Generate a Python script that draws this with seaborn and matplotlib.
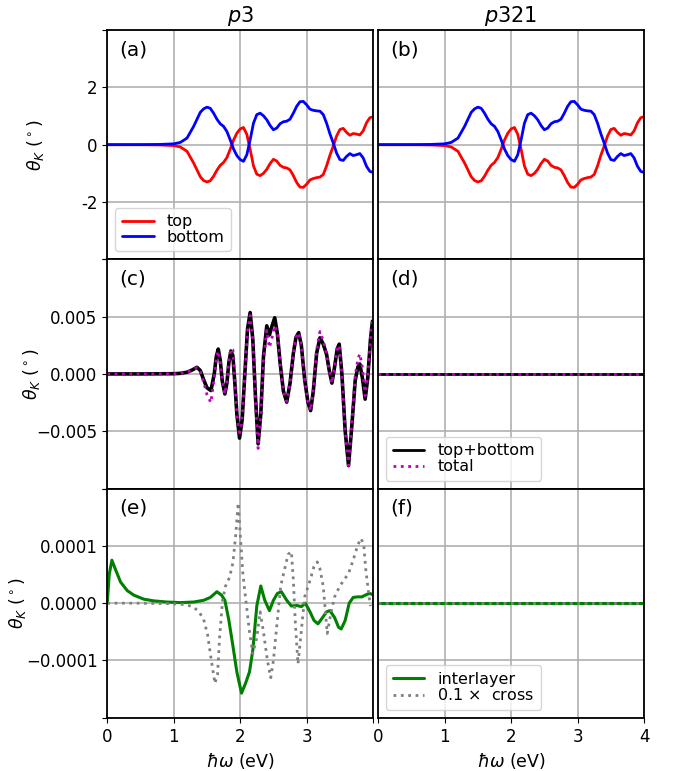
import matplotlib
matplotlib.use("Agg")
import matplotlib.pyplot as plt
import seaborn as sns

# ---------------- data ----------------
# panels (a)/(b): Kerr angle of top and bottom layers (deg)
ab_x = [0.0, 0.5, 0.8, 1.0, 1.1, 1.2, 1.3, 1.4, 1.45, 1.5, 1.55, 1.6, 1.65, 1.7, 1.75,
        1.8, 1.85, 1.9, 1.95, 2.0, 2.05, 2.1, 2.15, 2.2, 2.25, 2.3, 2.35, 2.4, 2.45,
        2.5, 2.55, 2.6, 2.65, 2.7, 2.75, 2.8, 2.85, 2.9, 2.95, 3.0, 3.05, 3.1, 3.15,
        3.2, 3.25, 3.3, 3.35, 3.4, 3.45, 3.5, 3.55, 3.6, 3.65, 3.7, 3.75, 3.8, 3.85,
        3.9, 3.95, 3.99]
ab_bottom = [0.0, 0.0, 0.01, 0.03, 0.08, 0.23, 0.64, 1.13, 1.25, 1.31, 1.27, 1.10, 0.89,
             0.73, 0.64, 0.46, 0.17, -0.15, -0.38, -0.52, -0.58, -0.35, 0.17, 0.75,
             1.05, 1.10, 1.01, 0.87, 0.67, 0.52, 0.58, 0.73, 0.80, 0.82, 0.89, 1.10,
             1.34, 1.50, 1.51, 1.39, 1.24, 1.20, 1.18, 1.17, 1.05, 0.75, 0.38, 0.06,
             -0.29, -0.52, -0.55, -0.41, -0.31, -0.38, -0.35, -0.31, -0.46, -0.75,
             -0.93, -0.96]
ab_top = [0.0, 0.0, -0.01, -0.03, -0.08, -0.23, -0.64, -1.12, -1.25, -1.30, -1.26,
          -1.10, -0.89, -0.72, -0.62, -0.45, -0.16, 0.16, 0.40, 0.55, 0.60, 0.36,
          -0.16, -0.74, -1.03, -1.08, -1.00, -0.86, -0.66, -0.51, -0.57, -0.72,
          -0.79, -0.81, -0.88, -1.08, -1.32, -1.48, -1.49, -1.38, -1.23, -1.18,
          -1.15, -1.13, -1.04, -0.74, -0.37, -0.05, 0.30, 0.53, 0.57, 0.43, 0.33,
          0.39, 0.37, 0.34, 0.48, 0.76, 0.94, 0.97]

# panel (c): p3, top+bottom and total (deg)
c_x = [0.0, 0.5, 1.0, 1.1, 1.2, 1.28, 1.35, 1.40, 1.45, 1.50, 1.56, 1.61, 1.64, 1.67,
       1.70, 1.73, 1.77, 1.80, 1.83, 1.86, 1.89, 1.92, 1.95, 1.99, 2.03, 2.07, 2.11,
       2.15, 2.19, 2.23, 2.27, 2.31, 2.35, 2.40, 2.44, 2.48, 2.52, 2.56, 2.60, 2.65,
       2.70, 2.75, 2.80, 2.84, 2.88, 2.92, 2.97, 3.02, 3.06, 3.10, 3.15, 3.20, 3.25,
       3.30, 3.34, 3.38, 3.42, 3.46, 3.49, 3.53, 3.58, 3.63, 3.68, 3.73, 3.77, 3.80,
       3.84, 3.88, 3.92, 3.96, 3.99]
c_topbottom = [0.0, 0.0, 0.02e-3, 0.05e-3, 0.15e-3, 0.35e-3, 0.58e-3, 0.3e-3, -0.5e-3,
               -1.2e-3, -1.45e-3, 0.0, 1.5e-3, 2.17e-3, 1.2e-3, -0.6e-3, -1.75e-3,
               -0.8e-3, 1.0e-3, 2.0e-3, 1.6e-3, -0.8e-3, -3.5e-3, -5.6e-3, -4.0e-3,
               0.0, 3.9e-3, 5.36e-3, 3.0e-3, -2.0e-3, -6.1e-3, -3.5e-3, 1.5e-3, 4.2e-3,
               3.4e-3, 4.2e-3, 4.9e-3, 3.5e-3, 1.0e-3, -1.5e-3, -2.46e-3, -0.8e-3,
               1.8e-3, 3.2e-3, 3.6e-3, 2.5e-3, -0.5e-3, -2.5e-3, -3.2e-3, -1.5e-3,
               1.8e-3, 3.15e-3, 2.6e-3, 1.7e-3, 0.3e-3, -0.8e-3, 0.6e-3, 2.2e-3, 2.6e-3,
               0.0, -5.0e-3, -8.0e-3, -4.5e-3, -0.6e-3, 0.6e-3, 0.87e-3, -0.4e-3,
               -2.2e-3, -0.3e-3, 3.0e-3, 4.6e-3]
c_total = [0.0, 0.0, 0.02e-3, 0.05e-3, 0.15e-3, 0.35e-3, 0.55e-3, 0.2e-3, -0.7e-3,
           -1.8e-3, -2.5e-3, -0.3e-3, 1.3e-3, 2.0e-3, 1.1e-3, -0.6e-3, -1.75e-3,
           -0.7e-3, 1.1e-3, 2.2e-3, 2.1e-3, -0.6e-3, -3.4e-3, -5.4e-3, -4.0e-3,
           0.0, 3.7e-3, 5.1e-3, 3.0e-3, -2.2e-3, -6.5e-3, -3.6e-3, 1.2e-3, 3.8e-3,
           2.3e-3, 3.2e-3, 4.2e-3, 3.6e-3, 1.0e-3, -1.5e-3, -2.4e-3, -0.8e-3,
           1.8e-3, 3.2e-3, 3.6e-3, 2.5e-3, -0.5e-3, -2.5e-3, -3.2e-3, -1.4e-3,
           2.1e-3, 3.7e-3, 2.9e-3, 1.7e-3, 0.3e-3, -0.8e-3, 0.6e-3, 2.2e-3, 2.5e-3,
           0.0, -5.0e-3, -8.0e-3, -4.3e-3, -0.2e-3, 1.3e-3, 1.75e-3, 0.5e-3,
           -1.9e-3, -0.2e-3, 3.0e-3, 4.6e-3]

# panel (e): p3, interlayer and 0.1 x cross (deg)
e_x = [0.0, 0.03, 0.07, 0.12, 0.2, 0.3, 0.4, 0.55, 0.7, 0.9, 1.1, 1.3, 1.45, 1.55,
       1.65, 1.72, 1.77, 1.83, 1.89, 1.95, 2.02, 2.08, 2.14, 2.19, 2.25, 2.31, 2.37,
       2.44, 2.50, 2.56, 2.62, 2.70, 2.77, 2.85, 2.92, 2.98, 3.05, 3.11, 3.17, 3.24,
       3.30, 3.35, 3.42, 3.48, 3.52, 3.58, 3.64, 3.70, 3.76, 3.83, 3.90, 3.95, 3.99]
e_interlayer = [0.0, 0.5e-4, 0.75e-4, 0.6e-4, 0.37e-4, 0.22e-4, 0.14e-4, 0.07e-4,
                0.04e-4, 0.02e-4, 0.01e-4, 0.02e-4, 0.05e-4, 0.1e-4, 0.2e-4, 0.14e-4,
                0.05e-4, -0.3e-4, -0.74e-4, -1.2e-4, -1.57e-4, -1.4e-4, -1.2e-4,
                -0.82e-4, -0.05e-4, 0.3e-4, 0.05e-4, -0.13e-4, 0.05e-4, 0.17e-4,
                0.2e-4, 0.05e-4, -0.05e-4, -0.04e-4, -0.06e-4, 0.0, -0.15e-4,
                -0.3e-4, -0.36e-4, -0.25e-4, -0.15e-4, -0.13e-4, -0.25e-4, -0.42e-4,
                -0.45e-4, -0.3e-4, 0.0, 0.1e-4, 0.11e-4, 0.11e-4, 0.15e-4, 0.17e-4,
                0.15e-4]
g_x = [0.0, 0.5, 1.0, 1.2, 1.3, 1.38, 1.45, 1.51, 1.56, 1.62, 1.66, 1.69, 1.735, 1.78,
       1.84, 1.89, 1.93, 1.97, 2.0, 2.04, 2.09, 2.14, 2.19, 2.25, 2.30, 2.35, 2.41,
       2.46, 2.50, 2.55, 2.61, 2.67, 2.72, 2.77, 2.80, 2.83, 2.87, 2.91, 2.97, 3.06,
       3.11, 3.16, 3.20, 3.25, 3.31, 3.36, 3.42, 3.50, 3.63, 3.70, 3.77, 3.82, 3.86,
       3.89, 3.93, 3.96]
e_cross = [0.0, 0.0, -0.01e-4, -0.03e-4, -0.07e-4, -0.15e-4, -0.28e-4, -0.55e-4,
           -0.95e-4, -1.40e-4, -1.24e-4, -0.6e-4, 0.05e-4, 0.3e-4, 0.45e-4, 0.7e-4,
           1.15e-4, 1.75e-4, 1.22e-4, 0.52e-4, 0.0, -0.5e-4, -0.88e-4, -0.6e-4,
           -0.15e-4, -0.5e-4, -1.0e-4, -1.3e-4, -1.0e-4, -0.4e-4, 0.3e-4, 0.6e-4,
           0.85e-4, 0.9e-4, 0.4e-4, -0.35e-4, -1.06e-4, -0.6e-4, 0.11e-4, 0.43e-4,
           0.64e-4, 0.72e-4, 0.6e-4, 0.29e-4, -0.53e-4, -0.2e-4, 0.11e-4, 0.3e-4,
           0.52e-4, 0.75e-4, 1.02e-4, 1.13e-4, 1.0e-4, 0.58e-4, 0.2e-4, -0.05e-4]

# p321 panels (d) and (f): identically zero
flat_x = [0.0, 1.0, 2.0, 3.0, 4.0]
flat_zero = [0.0, 0.0, 0.0, 0.0, 0.0]

col_titles = ["$p3$", "$p321$"]
panel_tags = ["(a)", "(b)", "(c)", "(d)", "(e)", "(f)"]
row_ylims = [(-4, 4), (-0.01, 0.01), (-2e-4, 2e-4)]
row_yticks = [[-4, -2, 0, 2, 4], [-0.01, -0.005, 0.0, 0.005, 0.01],
              [-2e-4, -1e-4, 0.0, 1e-4, 2e-4]]
row_yticklabels = [["", "-2", "0", "2", ""],
                   ["", "\u22120.005", "0.000", "0.005", ""],
                   ["", "\u22120.0001", "0.0000", "0.0001", ""]]
x_ticks = [0, 1, 2, 3, 4]
x_ticklabels_left = ["0", "1", "2", "3", ""]
x_ticklabels_right = ["0", "1", "2", "3", "4"]

# ---------------- style ----------------
sns.set_style("ticks")
plt.rcParams.update({
    "font.family": ["DejaVu Sans"],
    "mathtext.fontset": "dejavusans",
    "text.color": "black",
    "axes.labelcolor": "black",
    "axes.edgecolor": "black",
    "axes.linewidth": 1.3,
    "grid.color": "#b0b0b0",
    "grid.linewidth": 1.2,
    "xtick.labelsize": 12,
    "ytick.labelsize": 12,
    "xtick.color": "black",
    "ytick.color": "black",
    "legend.fontsize": 11.5,
})

fig, axes = plt.subplots(3, 2, figsize=(6.83, 7.71), dpi=100)
fig.subplots_adjust(left=0.157, right=0.943, top=0.961, bottom=0.069,
                    hspace=0.0, wspace=0.019)

# (a), (b)
for ax in axes[0]:
    sns.lineplot(x=ab_x, y=ab_top, ax=ax, color="red", lw=2.0, label="top",
                 legend=False)
    sns.lineplot(x=ab_x, y=ab_bottom, ax=ax, color="blue", lw=2.0, label="bottom",
                 legend=False)
axes[0, 0].legend(loc="lower left", labelspacing=0.05, fontsize=11.5)

# (c)
sns.lineplot(x=c_x, y=c_topbottom, ax=axes[1, 0], color="black", lw=2.6,
             label="top+bottom", legend=False)
sns.lineplot(x=c_x, y=c_total, ax=axes[1, 0], color="m", lw=2.0, linestyle=":",
             label="total", legend=False)
# (d)
sns.lineplot(x=flat_x, y=flat_zero, ax=axes[1, 1], color="black", lw=2.0,
             label="top+bottom", legend=False)
sns.lineplot(x=flat_x, y=flat_zero, ax=axes[1, 1], color="m", lw=2.0, linestyle=":",
             label="total", legend=False)
axes[1, 1].legend(loc="lower left", labelspacing=0.05, fontsize=11.5)

# (e)
sns.lineplot(x=e_x, y=e_interlayer, ax=axes[2, 0], color="green", lw=2.2,
             label="interlayer", legend=False)
sns.lineplot(x=g_x, y=e_cross, ax=axes[2, 0], color="gray", lw=2.0, linestyle=":",
             label="0.1 $\\times$  cross", legend=False)
# (f)
sns.lineplot(x=flat_x, y=flat_zero, ax=axes[2, 1], color="green", lw=2.2,
             label="interlayer", legend=False)
sns.lineplot(x=flat_x, y=flat_zero, ax=axes[2, 1], color="gray", lw=2.0,
             linestyle=":", label="0.1 $\\times$  cross", legend=False)
axes[2, 1].legend(loc="lower left", labelspacing=0.05, fontsize=11.5)

ylabel_x = [-0.229, -0.244, -0.297]

for r in range(3):
    for c in range(2):
        ax = axes[r, c]
        ax.set_xlim(0, 4)
        ax.set_ylim(*row_ylims[r])
        ax.set_xticks(x_ticks)
        ax.set_yticks(row_yticks[r])
        ax.grid(True)
        ax.set_xlabel("")
        ax.set_ylabel("")
        for s in ax.spines.values():
            s.set_visible(True)
            s.set_color("black")
        ax.text(0.045, 0.955, panel_tags[2 * r + c], transform=ax.transAxes,
                fontsize=14.5, va="top", ha="left", color="black")
        if c == 0:
            ax.set_yticklabels(row_yticklabels[r])
            ax.set_ylabel("$\\theta_K$ ($^\\circ$)", fontsize=12.5)
            ax.yaxis.set_label_coords(ylabel_x[r], 0.5)
        else:
            ax.tick_params(axis="y", left=False, labelleft=False)
        if r < 2:
            ax.tick_params(axis="x", bottom=False, labelbottom=False)
        else:
            ax.set_xticklabels(x_ticklabels_left if c == 0 else x_ticklabels_right)
            ax.set_xlabel("$\\hbar\\omega$ (eV)", fontsize=12.5)
        if r == 0:
            ax.set_title(col_titles[c], fontsize=15)

fig.savefig("out.png", dpi=100)
